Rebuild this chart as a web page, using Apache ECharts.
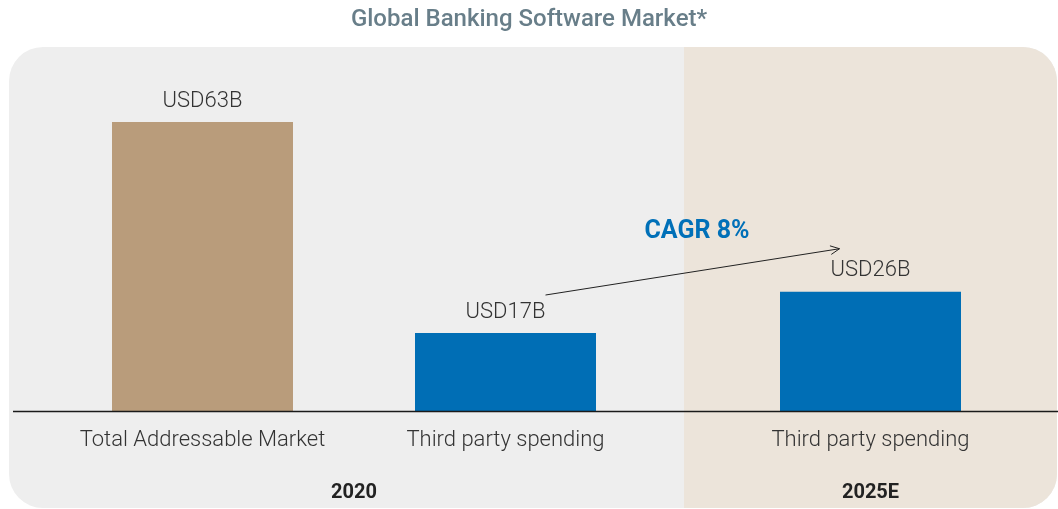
<!DOCTYPE html>
<html><head><meta charset="utf-8">
<script src="https://cdn.jsdelivr.net/npm/echarts@6/dist/echarts.min.js"></script>
<style>html,body{margin:0;padding:0;background:#fff}#c{width:1058px;height:509px}</style>
</head><body><div id="c"></div>
<script>
const title = "Global Banking Software Market*";
const categories2020 = ["Total Addressable Market", "Third party spending"];
const values2020 = [63, 17];
const categories2025 = ["Third party spending"];
const values2025 = [26];
const periodLabels = ["2020", "2025E"];
const cagrText = "CAGR 8%";

const FONT = "Roboto";
const chart = echarts.init(document.getElementById('c'));
const TAN = '#B99C7B', BLUE = '#006EB5';
const labelFmt = p => 'USD' + p.value + 'B';

const commonY = { type: 'value', min: 0, max: 63, show: false };
const catLabel = { interval: 0, hideOverlap: false, fontFamily: FONT, fontSize: 22, color: '#333', margin: 18, fontWeight: 300 };
const periodLabel = { interval: 0, fontFamily: FONT, fontSize: 20, color: '#222', fontWeight: 'bold' };
const option = {
  animation: false,
  title: { text: title, left: 'center', top: 3,
    textStyle: { fontFamily: FONT, fontSize: 24, fontWeight: 500, color: '#687E89' } },
  grid: [
    { left: 51, width: 606, top: 122, bottom: 98 },
    { left: 684, width: 373, top: 122, bottom: 98 }
  ],
  xAxis: [
    { type: 'category', gridIndex: 0, data: categories2020, axisLine: { show: false }, axisTick: { show: false }, axisLabel: catLabel },
    { type: 'category', gridIndex: 1, data: categories2025, axisLine: { show: false }, axisTick: { show: false }, axisLabel: catLabel },
    { type: 'category', gridIndex: 0, position: 'bottom', offset: 64, data: [periodLabels[0]], axisLine: { show: false }, axisTick: { show: false }, axisLabel: periodLabel },
    { type: 'category', gridIndex: 1, position: 'bottom', offset: 64, data: [periodLabels[1]], axisLine: { show: false }, axisTick: { show: false }, axisLabel: periodLabel }
  ],
  yAxis: [
    Object.assign({ gridIndex: 0 }, commonY),
    Object.assign({ gridIndex: 1 }, commonY)
  ],
  series: [
    { type: 'bar', xAxisIndex: 0, yAxisIndex: 0, barWidth: 181,
      data: values2020.map((v, i) => ({ value: v, itemStyle: { color: i === 0 ? TAN : BLUE } })),
      label: { show: true, position: 'top', distance: 10, formatter: labelFmt, fontFamily: FONT, fontSize: 22, fontWeight: 300, color: '#333' } },
    { type: 'bar', xAxisIndex: 1, yAxisIndex: 1, barWidth: 181,
      data: values2025, itemStyle: { color: BLUE },
      label: { show: true, position: 'top', distance: 10, formatter: labelFmt, fontFamily: FONT, fontSize: 22, fontWeight: 300, color: '#333' } }
  ]
};
chart.setOption(option);

// CAGR arrow annotation placed relative to the two third-party bars
const p1 = chart.convertToPixel({ xAxisIndex: 0, yAxisIndex: 0 }, [1, values2020[1]]);
const p2 = chart.convertToPixel({ xAxisIndex: 1, yAxisIndex: 1 }, [0, values2025[0]]);
const base = chart.convertToPixel({ xAxisIndex: 0, yAxisIndex: 0 }, [0, 0]);
const sx = p1[0] + 40, sy = p1[1] - 38;
const ex = p2[0] - 31, ey = p2[1] - 43;
const ang = Math.atan2(ey - sy, ex - sx);
const ah = 10, aw = 0.45;
const by = Math.round(base[1]) + 0.5;
chart.setOption({
  graphic: [
    { type: 'rect', z: -10, silent: true, shape: { x: 9, y: 47, width: 1048, height: 461, r: 34 }, style: { fill: '#EEEEEE' } },
    { type: 'rect', z: -9, silent: true, shape: { x: 684, y: 47, width: 373, height: 461, r: [0, 34, 34, 0] }, style: { fill: '#ECE4DA' } },
    { type: 'line', z: 5, shape: { x1: 13, y1: by, x2: 1058, y2: by }, style: { stroke: '#1a1a1a', lineWidth: 1.3 } },
    { type: 'line', z: 5, shape: { x1: sx, y1: sy, x2: ex, y2: ey }, style: { stroke: '#222', lineWidth: 1 } },
    { type: 'polyline', z: 5, shape: { points: [
        [ex - ah * Math.cos(ang - aw), ey - ah * Math.sin(ang - aw)], [ex, ey],
        [ex - ah * Math.cos(ang + aw), ey - ah * Math.sin(ang + aw)] ] },
      style: { stroke: '#222', lineWidth: 1, fill: null } },
    { type: 'text', z: 6, style: { text: cagrText, x: 697, y: 232, align: 'center', verticalAlign: 'middle',
        font: 'bold 25px ' + FONT, fill: '#0070B8' } }
  ]
});
</script></body></html>
